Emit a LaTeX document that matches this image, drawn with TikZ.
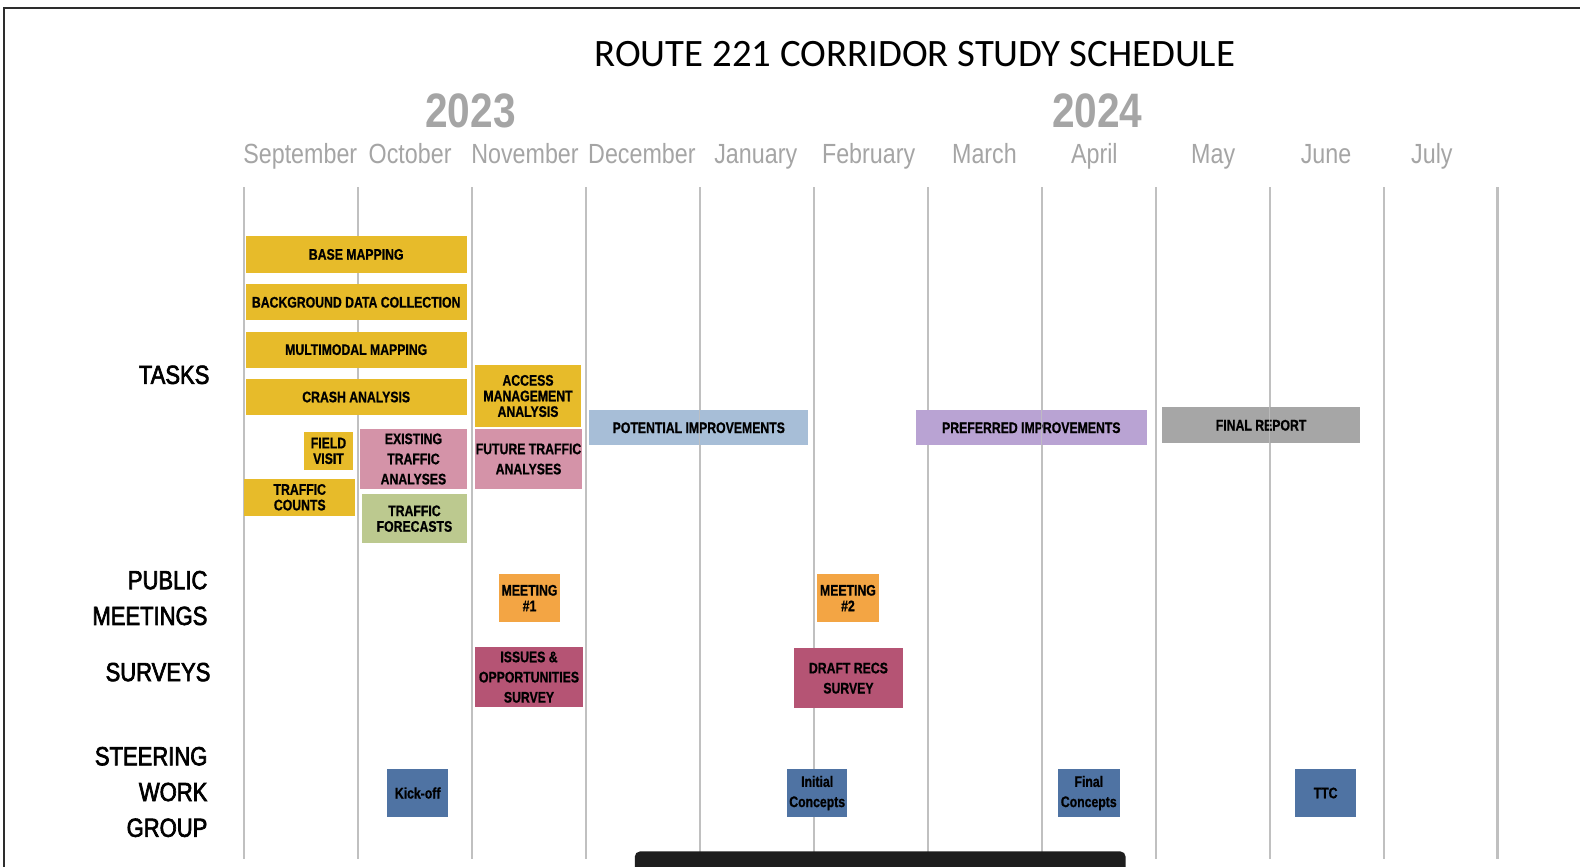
\documentclass[tikz,border=0pt]{standalone}
\usepackage{fontspec}
\newfontfamily\narrowfont[FakeStretch=0.84]{Liberation Sans}
\newfontfamily\rowfont[FakeStretch=0.84, FakeBold=2.5]{Liberation Sans}
\newfontfamily\tightfont[FakeStretch=0.80, FakeBold=0.8]{Liberation Sans}
\newfontfamily\titlefont{Carlito}

\definecolor{framec}{RGB}{45,45,45}
\definecolor{gridc}{RGB}{192,192,192}
\definecolor{headc}{RGB}{165,165,165}
\definecolor{barc}{RGB}{30,30,30}
\definecolor{goldc}{RGB}{231,187,42}
\definecolor{pinkc}{RGB}{212,147,168}
\definecolor{greenc}{RGB}{188,201,143}
\definecolor{bluec}{RGB}{167,190,215}
\definecolor{purplec}{RGB}{185,163,211}
\definecolor{grayc}{RGB}{166,166,166}
\definecolor{orangec}{RGB}{243,165,68}
\definecolor{surveyc}{RGB}{181,84,116}
\definecolor{steelc}{RGB}{79,115,163}

\tikzset{
  taskbox/.style={rectangle, inner sep=0pt, align=center, text=black,
    font=\tightfont\bfseries\fontsize{15.2}{15.5}\selectfont},
  loosebox/.style={taskbox, font=\tightfont\bfseries\fontsize{15.2}{20}\selectfont},
  monthlabel/.style={anchor=base, text=headc, font=\narrowfont\fontsize{27.5}{30}\selectfont, inner sep=0pt},
  yearlabel/.style={anchor=base, text=headc, font=\narrowfont\bfseries\fontsize{48}{50}\selectfont, inner sep=0pt},
  rowlabel/.style={anchor=east, align=right, inner sep=0pt, text=black,
    font=\rowfont\fontsize{26}{35.5}\selectfont},
  gridline/.style={draw=gridc, line width=2pt},
  overline/.style={draw=gridc, line width=1.2pt, opacity=0.8},
}

\begin{document}
\begin{tikzpicture}[x=1pt, y=-1pt]
\useasboundingbox (0,0) rectangle (1568,860);
\fill[white] (0,0) rectangle (1568,860);

% outer frame: left and top edges
\draw[framec, line width=1.8pt] (4,860) -- (4,8) -- (1568,8);

% month columns
\foreach \i in {0,...,11}
  \draw[gridline] ({242+113.1*\i},186) -- ({242+113.1*\i},852);

% title and calendar header
\node[font=\titlefont\fontsize{38.5}{40}\selectfont, inner sep=0pt] (title) at (908,54) {ROUTE 221 CORRIDOR STUDY SCHEDULE};
\node[yearlabel] (y2023) at (467,127) {2023};
\node[yearlabel] (y2024) at (1089,127) {2024};
\node[monthlabel] (sep) at (298,162) {September};
\node[monthlabel] (oct) at (407,162) {October};
\node[monthlabel] (nov) at (521,162) {November};
\node[monthlabel] (dec) at (637,162) {December};
\node[monthlabel] (jan) at (750,162) {January};
\node[monthlabel] (feb) at (862,162) {February};
\node[monthlabel] (mar) at (977,162) {March};
\node[monthlabel] (apr) at (1086,162) {April};
\node[monthlabel] (may) at (1204,162) {May};
\node[monthlabel] (jun) at (1316,162) {June};
\node[monthlabel] (jul) at (1421,162) {July};

% row headings
\node[rowlabel] (tasks) at (208,372) {TASKS};
\node[rowlabel] (public) at (206,593.5) {PUBLIC\\MEETINGS};
\node[rowlabel] (surveys) at (209,667) {SURVEYS};
\node[rowlabel] (steering) at (206,786) {STEERING\\WORK\\GROUP};

% tasks
\node[taskbox, fill=goldc, minimum width=219, minimum height=37] (base) at (353.5,252.5) {BASE MAPPING};
\node[taskbox, fill=goldc, minimum width=219, minimum height=36] (bgdata) at (353.5,300) {BACKGROUND DATA COLLECTION};
\node[taskbox, fill=goldc, minimum width=219, minimum height=36] (multi) at (353.5,347) {MULTIMODAL MAPPING};
\node[taskbox, fill=goldc, minimum width=219, minimum height=36] (crash) at (353.5,394) {CRASH ANALYSIS};
\node[taskbox, fill=goldc, minimum width=104.6, minimum height=61] (access) at (524,393) {ACCESS\\MANAGEMENT\\ANALYSIS};
\node[loosebox, fill=pinkc, minimum width=105.6, minimum height=60] (future) at (524.5,455.5) {FUTURE TRAFFIC\\ANALYSES};
\node[taskbox, fill=goldc, minimum width=49, minimum height=37.7] (field) at (326,447.5) {FIELD\\VISIT};
\node[loosebox, fill=pinkc, minimum width=105.6, minimum height=60] (existing) at (410.3,455.5) {EXISTING\\TRAFFIC\\ANALYSES};
\node[taskbox, fill=goldc, minimum width=110, minimum height=36.5] (counts) at (297.5,493.5) {TRAFFIC\\COUNTS};
\node[taskbox, fill=greenc, minimum width=104.8, minimum height=49] (forecast) at (411.3,514.7) {TRAFFIC\\FORECASTS};
\node[taskbox, fill=bluec, minimum width=217, minimum height=35] (potential) at (693.5,424.5) {POTENTIAL IMPROVEMENTS};
\node[taskbox, fill=purplec, minimum width=229, minimum height=35] (preferred) at (1023.5,424.5) {PREFERRED IMPROVEMENTS};
\node[taskbox, fill=grayc, minimum width=197, minimum height=36] (final) at (1251.5,422) {FINAL REPORT};

% column rules showing faintly through the later-phase bars
\draw[overline] (694.4,407) -- (694.4,442);
\draw[overline] (1033.7,407) -- (1033.7,442);
\draw[overline] (1259.9,404) -- (1259.9,440);

% public meetings
\node[taskbox, fill=orangec, minimum width=61, minimum height=47] (meet1) at (525.5,593.5) {MEETING\\\#1};
\node[taskbox, fill=orangec, minimum width=61, minimum height=47] (meet2) at (841.5,593.5) {MEETING\\\#2};

% surveys
\node[loosebox, fill=surveyc, minimum width=108, minimum height=60] (issues) at (525,672) {ISSUES \&\\OPPORTUNITIES\\SURVEY};
\node[loosebox, fill=surveyc, minimum width=108, minimum height=60] (draft) at (842,673) {DRAFT RECS\\SURVEY};

% steering work group
\node[loosebox, fill=steelc, minimum width=61, minimum height=48] (kickoff) at (414.5,787) {Kick-off};
\node[loosebox, fill=steelc, minimum width=60, minimum height=48] (initial) at (811,787) {Initial\\Concepts};
\node[loosebox, fill=steelc, minimum width=61, minimum height=48] (finalc) at (1080.5,787) {Final\\Concepts};
\node[loosebox, fill=steelc, minimum width=61, minimum height=48] (ttc) at (1315.5,787) {TTC};

% dark bar along the bottom edge
\fill[barc, rounded corners=5pt] (630,868) rectangle (1117,845);
\end{tikzpicture}
\end{document}
